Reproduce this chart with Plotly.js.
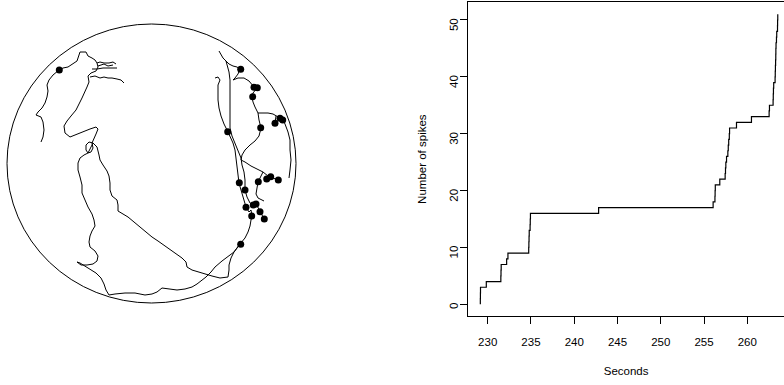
<!DOCTYPE html>
<html>
<head>
<meta charset="utf-8">
<script src="https://cdn.plot.ly/plotly-3.0.1.min.js"></script>
<style>html,body{margin:0;padding:0;background:#fff;}#chart{width:784px;height:385px;}</style>
</head>
<body>
<div id="chart"></div>
<script>
// ---- Left panel: tracked position (camera pixels, y downward); null = gap ----
var pathX = [
  // left lobe, middle descent, junction, left branch, bottom path, right column A
  41,43,44,43,41,36,38,42,45,47,48,47,49,53,59,63,68,72,77,79,80,86,88,92,95,97,98,96,
  91,88,89,87,85,82,79,76,71,67,64,65,70,77,84,90,96,98,96,94,92,93,91,88,86,86,89,93,
  88,84,80,78,78,80,82,82,85,88,92,94,95,92,90,89,90,95,98,97,93,87,81,77,
  80,85,90,96,101,104,106,109,115,125,135,145,152,157,162,168,177,185,192,197,201,206,211,215,222,229,234,240,
  245,248,250,251,252,251,249,246,245,243,241,239,238,237,236,235,233,231,228,224,221,219,218,218,218,220,218,215,
  null,
  // diagonal branch from junction to bottom right
  93,97,99,100,103,107,109,110,110,112,117,118,118,123,128,134,140,146,152,158,165,171,177,182,186,187,192,198,205,212,220,228,229,229,231,234,240,
  null,
  // top tip to first right dot, and column B
  219,221,223,226,229,233,237,240,238,235,233,238,244,249,252,254,257,253,252,253,255,258,263,268,273,277,280,283,285,288,290,290,291,290,289,
  null,
  226,227,229,230,230,230,230,230,230,232,236,239,241,242,244,245,245,247,250,253,256,260,264,
  null,
  // branch to lower-right cluster
  258,259,261,259,255,250,245,242,241,245,251,257,263,268,271,278,
  null,
  276,275,
  null,
  263,258,257,256,258,262,264,
  null,
  // top-left tendrils
  92,97,103,110,117,
  null,
  98,104,108,113,
  null,
  90,95,100,104,108,112,117,121,124,
  null,
  97,100,104,109,113,116
];
var pathY = [
  142,137,130,122,117,115,112,108,103,97,91,85,80,75,70,68,67,64,61,55,52,52,56,58,60,63,67,71,
  73,76,82,87,92,98,104,110,116,121,126,133,137,134,131,129,127,129,134,139,143,148,152,153,150,145,142,143,
  153,155,158,163,170,177,185,193,200,207,214,220,226,231,236,242,247,251,256,261,264,265,265,262,
  263,266,269,273,278,284,290,295,294,293,293,295,294,292,288,289,290,289,287,284,281,277,272,267,261,256,252,244,
  238,232,226,220,216,210,212,207,204,197,190,183,173,165,157,150,143,138,132,124,116,108,100,92,85,80,77,78,
  null,
  143,147,155,160,165,171,176,183,190,196,200,205,211,214,217,222,227,232,237,241,246,250,254,258,262,267,270,272,274,276,278,277,270,265,258,252,244,
  null,
  51,55,58,61,64,66,67,69,74,78,80,78,78,81,84,87,88,93,97,102,107,113,113,113,114,116,118,120,124,132,140,150,160,170,178,
  null,
  61,65,72,80,90,100,110,120,128,136,145,152,158,165,172,180,190,197,203,205,204,211,219,
  null,
  113,120,128,136,141,145,150,155,160,162,166,169,172,176,177,180,
  null,
  116,123,
  null,
  172,182,188,194,198,200,201,
  null,
  69,69,68,68,68,
  null,
  66,64,66,65,
  null,
  77,76,78,77,78,78,79,80,83,
  null,
  63,62,63,63,62,64
];
// spike locations (camera pixels)
var spikeX = [59.3,240.7,254,257.3,252.7,227.7,260.7,275,280,282.7,239.3,245,258.3,266.7,270.7,278.3,246,253.3,256,260,251.7,264.3,240.7];
var spikeY = [70,69.3,87.3,87.7,96.7,131.7,127.7,123.3,118.3,120,182.7,190,181.7,179,176.7,180,207.3,205,204,211.7,216,219,244.3];

// ---- Right panel: spike times (s) ----
var spikeTimes = [
  229.15,229.16,229.17,229.84,231.52,231.54,231.56,232.19,232.34,
  234.74,234.76,234.78,234.80,234.90,234.92,234.94,242.82,256.05,
  256.26,256.28,256.30,256.82,257.44,257.48,257.52,257.60,257.75,
  257.80,257.85,257.92,257.95,258.75,260.48,262.52,262.56,262.98,
  263.00,263.02,263.05,263.21,263.23,263.25,263.27,263.29,263.30,
  263.32,263.37,263.40,263.49,263.50,263.52
];
var xTicks = [230,235,240,245,250,255,260];
var yTicks = [0,10,20,30,40,50];

var stepX = [spikeTimes[0]];
var stepY = [0];
for (var i = 0; i < spikeTimes.length; i++) { stepX.push(spikeTimes[i]); stepY.push(i + 1); }

var traces = [
  {x: pathX, y: pathY, xaxis: 'x', yaxis: 'y', type: 'scatter', mode: 'lines',
   connectgaps: false, line: {color: '#000', width: 1}, hoverinfo: 'skip'},
  {x: spikeX, y: spikeY, xaxis: 'x', yaxis: 'y', type: 'scatter', mode: 'markers',
   marker: {color: '#000', size: 7}, hoverinfo: 'skip'},
  {x: stepX, y: stepY, xaxis: 'x2', yaxis: 'y2', type: 'scatter', mode: 'lines',
   line: {color: '#000', width: 1.2, shape: 'hv'}, hoverinfo: 'skip'}
];

var axFont = {family: 'Liberation Sans, Arial, sans-serif', size: 11.5, color: '#000'};
var layout = {
  width: 784, height: 385,
  margin: {l: 0, r: 0, t: 0, b: 0},
  paper_bgcolor: '#fff', plot_bgcolor: 'rgba(0,0,0,0)',
  showlegend: false,
  font: axFont,
  xaxis: {domain: [0, 320/784], range: [0, 320], visible: false, fixedrange: true},
  yaxis: {domain: [0, 1], range: [385, 0], visible: false, fixedrange: true},
  xaxis2: {anchor: 'y2', domain: [468.3/784, 1], range: [227.76, 264.24],
    tickmode: 'array', tickvals: xTicks, ticktext: xTicks.map(String),
    ticks: 'outside', ticklen: 7, tickwidth: 1, tickcolor: '#000',
    showline: true, linecolor: '#000', linewidth: 1, mirror: true,
    showgrid: false, zeroline: false, tickfont: axFont, ticklabelstandoff: 8,
    title: {text: 'Seconds', font: axFont, standoff: 20}},
  yaxis2: {anchor: 'x2', domain: [69/385, 382.7/385], range: [-2.06, 53.11],
    tickmode: 'array', tickvals: yTicks, ticktext: yTicks.map(String), tickangle: -89.9,
    ticks: 'outside', ticklen: 7, tickwidth: 1, tickcolor: '#000',
    showline: true, linecolor: '#000', linewidth: 1, mirror: false,
    showgrid: false, zeroline: false, tickfont: axFont, ticklabelstandoff: 6,
    title: {text: 'Number of spikes', font: axFont, standoff: 18}},
  shapes: [{type: 'circle', xref: 'x', yref: 'y', x0: 7, x1: 296, y0: 24, y1: 303,
    line: {color: '#000', width: 1}}]
};

Plotly.newPlot('chart', traces, layout, {staticPlot: true, displayModeBar: false});
</script>
</body>
</html>
